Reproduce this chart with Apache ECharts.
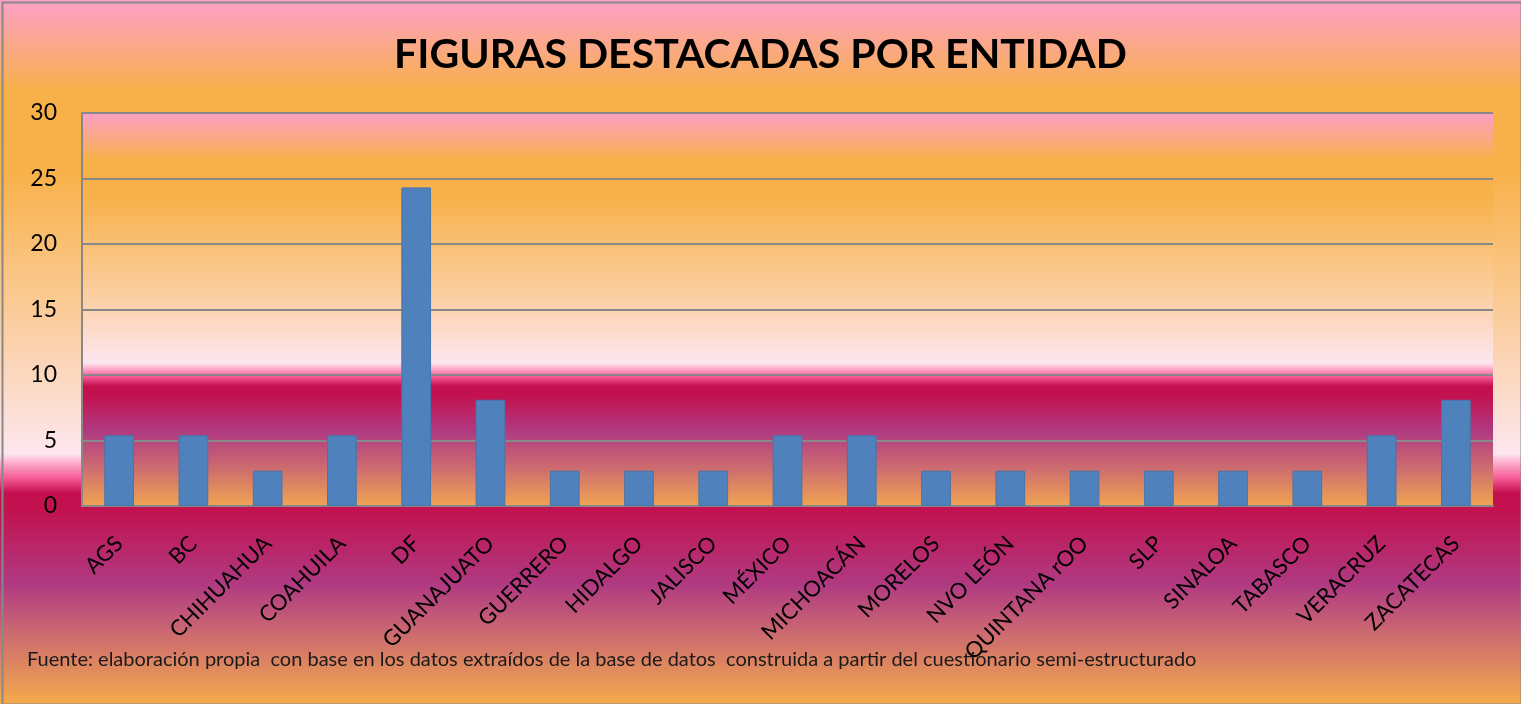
<!DOCTYPE html>
<html>
<head>
<meta charset="utf-8">
<script src="https://cdn.jsdelivr.net/npm/echarts@6/dist/echarts.min.js"></script>
<style>
  html, body { margin: 0; padding: 0; }
  #main { width: 1521px; height: 704px; }
</style>
</head>
<body>
<div id="main"></div>
<script>
// datos: porcentaje de figuras destacadas por entidad
var entidades = ['AGS', 'BC', 'CHIHUAHUA', 'COAHUILA', 'DF', 'GUANAJUATO', 'GUERRERO', 'HIDALGO', 'JALISCO', 'MÉXICO', 'MICHOACÁN', 'MORELOS', 'NVO LEÓN', 'QUINTANA rOO', 'SLP', 'SINALOA', 'TABASCO', 'VERACRUZ', 'ZACATECAS'];
var valores = [5.41, 5.41, 2.70, 5.41, 24.32, 8.11, 2.70, 2.70, 2.70, 5.41, 5.41, 2.70, 2.70, 2.70, 2.70, 2.70, 2.70, 5.41, 8.11];
var yTicks = [0, 5, 10, 15, 20, 25, 30];

var fuente = 'Fuente: elaboración propia  con base en los datos extraídos de la base de datos  construida a partir del cuestionario semi-estructurado';

// degradado tipo Excel (rosa - naranja - rosa claro - carmesí - morado - naranja)
function degradado(stops) {
    return new echarts.graphic.LinearGradient(0, 0, 0, 1, stops.map(function (s) {
        return { offset: s[0], color: s[1] };
    }));
}

var fondoExterior = degradado([
    [0, '#fca0c8'],
    [0.13, '#f8b048'],
    [0.25, '#f8b24c'],
    [0.45, '#fbcd9c'],
    [0.645, '#fde6ef'],
    [0.655, '#fdb6d2'],
    [0.68, '#f55893'],
    [0.7, '#c4104f'],
    [0.725, '#c2124f'],
    [0.83, '#b03a82'],
    [0.9, '#cc6a70'],
    [1, '#f4aa4c']
]);

var fondoGrafica = degradado([
    [0, '#fca0c8'],
    [0.12, '#f8b048'],
    [0.22, '#f8b24c'],
    [0.45, '#fbcd9c'],
    [0.635, '#fde6ef'],
    [0.648, '#fdb6d2'],
    [0.672, '#f55893'],
    [0.695, '#c4104f'],
    [0.72, '#c2124f'],
    [0.81, '#b03a82'],
    [0.9, '#cc6a70'],
    [1, '#f0a452']
]);

var myChart = echarts.init(document.getElementById('main'));

myChart.setOption({
    backgroundColor: fondoExterior,
    animation: false,
    title: {
        text: 'FIGURAS DESTACADAS POR ENTIDAD',
        left: 'center',
        top: 29,
        textStyle: {
            fontFamily: 'Lato',
            fontSize: 41,
            fontWeight: 'bold',
            color: '#000'
        }
    },
    grid: {
        left: 82,
        right: 28,
        top: 113,
        bottom: 198,
        show: true,
        backgroundColor: fondoGrafica,
        borderWidth: 0
    },
    xAxis: {
        type: 'category',
        data: entidades,
        axisLine: { lineStyle: { color: '#888', width: 2 } },
        axisTick: { show: false },
        axisLabel: {
            rotate: 45,
            margin: 34,
            interval: 0,
            fontFamily: 'Lato',
            fontSize: 22,
            color: '#000'
        }
    },
    yAxis: {
        type: 'value',
        min: yTicks[0],
        max: yTicks[yTicks.length - 1],
        interval: 5,
        axisLine: { show: true, lineStyle: { color: '#888', width: 2 } },
        axisTick: { show: false },
        splitLine: { lineStyle: { color: '#888', width: 2 } },
        axisLabel: {
            margin: 25,
            fontFamily: 'Lato',
            fontSize: 23,
            color: '#000'
        }
    },
    series: [
        {
            type: 'bar',
            data: valores,
            barWidth: '40%',
            itemStyle: {
                color: '#4f81bd',
                borderColor: '#4a74a8',
                borderWidth: 1
            }
        }
    ],
    graphic: [
        {
            type: 'text',
            left: 27,
            top: 650,
            style: {
                text: fuente,
                fontFamily: 'Lato',
                fontSize: 20,
                fill: '#1a1a1a'
            }
        },
        {
            type: 'rect',
            left: 0,
            top: 0,
            shape: { width: 1519, height: 702 },
            style: { fill: 'none', stroke: '#888', lineWidth: 2 }
        }
    ]
});
</script>
</body>
</html>
